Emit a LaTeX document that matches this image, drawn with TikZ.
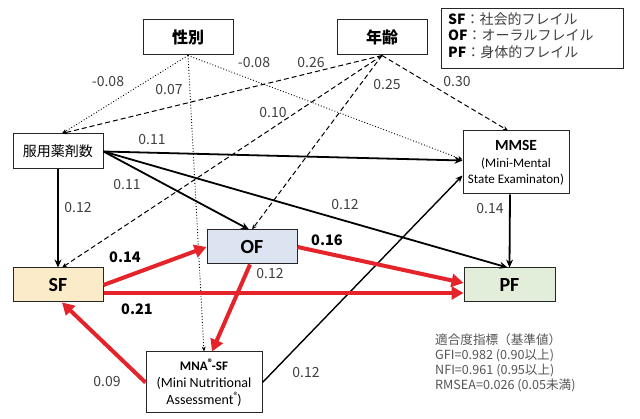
\documentclass[tikz,border=0pt]{standalone}
\usepackage{fontspec}
\setmainfont{Carlito}
\newfontfamily\jp{Noto Sans CJK JP}
\usetikzlibrary{arrows.meta,calc}
\definecolor{redline}{HTML}{E4232A}
\definecolor{sffill}{HTML}{FCEBC8}
\definecolor{offill}{HTML}{DCE4F2}
\definecolor{pffill}{HTML}{E3EEDA}
\definecolor{txtgray}{HTML}{555555}
\newcommand{\regmark}{\raisebox{0.4em}{\fontsize{8}{8}\selectfont\jp ®}}
\tikzset{
  box/.style={draw=black!85, line width=1pt, inner sep=0pt, align=center},
  lab/.style={font=\jp\fontsize{14}{16}\selectfont, text=black!75, inner sep=0pt},
  blab/.style={font=\jp\bfseries\fontsize{14.5}{16}\selectfont, text=black, inner sep=0pt},
  solidarr/.style={draw=black, line width=1.8pt, -{Stealth[length=8pt,width=7pt]}},
  thinarr/.style={draw=black, line width=1.4pt, -{Stealth[length=7pt,width=6pt]}},
  dotarr/.style={draw=black, line width=0.9pt, dotted, -{Stealth[length=5pt,width=4pt]}},
  dasharr/.style={draw=black, line width=1pt, dash pattern=on 5pt off 3pt, -{Stealth[length=5pt,width=4pt]}},
  redarr/.style={draw=redline, line width=4pt, -{Triangle[length=12pt,width=13pt]}},
}
\begin{document}
\begin{tikzpicture}[x=1pt,y=-1pt]
\useasboundingbox[fill=white] (0,0) rectangle (640,419);

% nodes
\node[box, minimum width=90pt, minimum height=35pt] (sex) at (188,37.5) {\jp\bfseries\fontsize{16}{18}\selectfont 性別};
\node[box, minimum width=90pt, minimum height=35pt] (age) at (382,37.5) {\jp\bfseries\fontsize{16}{18}\selectfont 年齢};
\node[box, minimum width=90pt, minimum height=35pt] (med) at (58,151.5) {\jp\fontsize{14}{16}\selectfont 服用薬剤数};
\node[box, minimum width=106pt, minimum height=63pt, font=\fontsize{13}{16}\selectfont] (mmse) at (516,162.5) {{\bfseries\fontsize{15.5}{17}\selectfont MMSE}\\[1pt](Mini-Mental\\State Examinaton)};
\node[box, fill=offill, minimum width=90pt, minimum height=34pt] (of) at (252,247) {\bfseries\fontsize{20}{20}\selectfont OF};
\node[box, fill=sffill, minimum width=90pt, minimum height=34pt] (sf) at (58,285) {\bfseries\fontsize{20}{20}\selectfont SF};
\node[box, fill=pffill, minimum width=91pt, minimum height=34pt] (pf) at (509.5,285) {\bfseries\fontsize{20}{20}\selectfont PF};
\node[box, minimum width=116pt, minimum height=61pt, font=\fontsize{14}{16.5}\selectfont] (mna) at (204,382.5) {{\bfseries\fontsize{13}{15}\selectfont MNA\regmark-SF}\\[1pt](Mini Nutritional\\Assessment\regmark)};

% legend
\node[draw=black!85, line width=0.8pt, minimum width=182pt, minimum height=60pt, inner sep=0pt] (legend) at (532,38) {};
\node[anchor=west, inner sep=0pt, align=left, font=\fontsize{14}{16.5}\selectfont] (legtxt) at (448,35.5)
  {{\jp\bfseries SF}{\jp\color{black!75}：社会的フレイル}\\{\jp\bfseries OF}{\jp\color{black!75}：オーラルフレイル}\\{\jp\bfseries PF}{\jp\color{black!75}：身体的フレイル}};

% fit indices
\node[anchor=north west, inner sep=0pt, align=left, text=txtgray, font=\jp\fontsize{12.6}{14.8}\selectfont] (fit) at (435,334)
  {適合度指標（基準値）\\GFI=0.982 (0.90以上)\\NFI=0.961 (0.95以上)\\RMSEA=0.026 (0.05未満)};

% dotted from sex
\draw[dotarr] (sex.south) -- ([xshift=4pt]med.north);
\draw[dotarr] (sex.south) -- (mna.north);
\draw[dotarr] (sex.south) -- ([yshift=3pt]mmse.west);

% dashed from age
\draw[dasharr] (age.south) -- ([xshift=4pt]med.north);
\draw[dasharr] (age.south) -- ([xshift=4pt]sf.north);
\draw[dasharr] (age.south) -- (of.north);
\draw[dasharr] (age.south) -- ([xshift=-8pt]mmse.north);

% solid black
\draw[solidarr] (med.east) -- ([yshift=2pt]mmse.west);
\draw[solidarr] (med.east) -- ([xshift=-3pt]of.north);
\draw[solidarr] (med.east) -- ([xshift=-2pt]pf.north);
\draw[solidarr] (med.south) -- (sf.north);
\draw[solidarr] ([xshift=-6pt]mmse.south) -- (pf.north);
\draw[thinarr] (mna.east) -- ([yshift=-13pt]mmse.west);

% red
\draw[redarr] (sf.east) -- (of.west);
\draw[redarr] ([yshift=-8pt]sf.east) -- ([yshift=-8pt]pf.west);
\draw[redarr] (of.east) -- ([yshift=2pt]pf.west);
\draw[redarr] ([xshift=-2pt]of.south) -- ([xshift=8pt]mna.north);
\draw[redarr] (mna.west) -- ([xshift=4pt]sf.south);

% labels
\node[lab] (l1) at (108,82) {-0.08};
\node[lab] (l2) at (169,90) {0.07};
\node[lab] (l3) at (254,63) {-0.08};
\node[lab] (l4) at (311,63) {0.26};
\node[lab] (l5) at (273,113) {0.10};
\node[lab] (l6) at (387,85) {0.25};
\node[lab] (l7) at (457,82) {0.30};
\node[lab] (l8) at (152,140) {0.11};
\node[lab] (l9) at (127,185) {0.11};
\node[lab] (l10) at (78,208) {0.12};
\node[lab] (l11) at (345,205) {0.12};
\node[lab] (l12) at (490,209) {0.14};
\node[lab] (l13) at (270,274) {0.12};
\node[lab] (l14) at (107,382) {0.09};
\node[lab] (l15) at (306,373) {0.12};
\node[blab] (b1) at (125,257) {0.14};
\node[blab] (b2) at (327,240) {0.16};
\node[blab] (b3) at (137,309) {0.21};
\end{tikzpicture}
\end{document}
